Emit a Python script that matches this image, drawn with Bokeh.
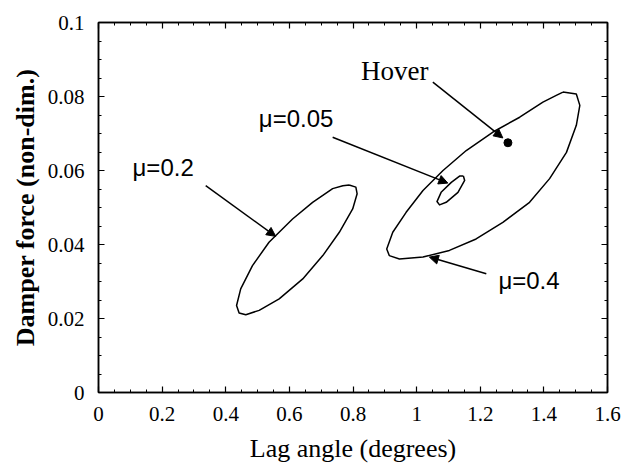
from bokeh.plotting import figure
from bokeh.models import (Range1d, FixedTicker, LinearAxis, Arrow, NormalHead, Label)
from bokeh.embed import file_html
from bokeh.resources import INLINE

# ---- data ----
x_ticks = [0, 0.2, 0.4, 0.6, 0.8, 1.0, 1.2, 1.4, 1.6]
x_tick_labels = ["0", "0.2", "0.4", "0.6", "0.8", "1", "1.2", "1.4", "1.6"]
y_ticks = [0, 0.02, 0.04, 0.06, 0.08, 0.1]
y_tick_labels = ["0", "0.02", "0.04", "0.06", "0.08", "0.1"]
x_minor = [i * 0.05 for i in range(33)]
y_minor = [i * 0.005 for i in range(21)]

# mu = 0.2 loop
mu02_x = [0.788, 0.809, 0.813, 0.799, 0.757, 0.705, 0.642, 0.568, 0.505, 0.463,
          0.442, 0.434, 0.447, 0.484, 0.536, 0.610, 0.673, 0.736, 0.768, 0.788]
mu02_y = [0.0561, 0.0555, 0.0537, 0.0496, 0.0433, 0.0370, 0.0307, 0.0253, 0.0222, 0.0210,
          0.0215, 0.0235, 0.0280, 0.0343, 0.0406, 0.0469, 0.0514, 0.0551, 0.0559, 0.0561]

# mu = 0.4 loop
mu04_x = [1.460, 1.502, 1.513, 1.502, 1.471, 1.418, 1.355, 1.271, 1.187, 1.103,
          1.020, 0.946, 0.914, 0.906, 0.925, 0.967, 1.020, 1.083, 1.156, 1.240,
          1.324, 1.397, 1.439, 1.460]
mu04_y = [0.0812, 0.0807, 0.0776, 0.0722, 0.0649, 0.0578, 0.0514, 0.0460, 0.0415, 0.0384,
          0.0366, 0.0361, 0.0370, 0.0388, 0.0433, 0.0487, 0.0546, 0.0600, 0.0654, 0.0704,
          0.0744, 0.0785, 0.0803, 0.0812]

# mu = 0.05 loop
mu005_x = [1.147, 1.151, 1.130, 1.093, 1.072, 1.064, 1.077, 1.109, 1.135, 1.147]
mu005_y = [0.0585, 0.0573, 0.0541, 0.0514, 0.0507, 0.0516, 0.0541, 0.0568, 0.0585, 0.0585]

hover_x = [1.287]
hover_y = [0.0675]

# annotations: label text, label position, arrow start, arrow end
ann_text = ["Hover", "\u03bc=0.05", "\u03bc=0.2", "\u03bc=0.4"]
ann_lx = [0.825, 0.504, 0.107, 1.257]
ann_ly = [0.0870, 0.0740, 0.0608, 0.0302]
arr_x0 = [1.051, 0.736, 0.337, 1.219]
arr_y0 = [0.0839, 0.0690, 0.0559, 0.0321]
arr_x1 = [1.271, 1.098, 0.557, 1.040]
arr_y1 = [0.0688, 0.0566, 0.0422, 0.0366]

# ---- figure ----
p = figure(width=624, height=465, output_backend="svg", toolbar_location=None,
           x_range=Range1d(0, 1.6), y_range=Range1d(0, 0.1),
           x_axis_label="Lag angle (degrees)", y_axis_label="Damper force (non-dim.)",
           min_border_left=98, min_border_right=17, min_border_top=22, min_border_bottom=73)
p.grid.visible = False
p.outline_line_color = "black"
p.outline_line_width = 1.5
p.background_fill_color = "white"
p.border_fill_color = "white"

serif = "Liberation Serif"
sans = "Liberation Sans"

xt = FixedTicker(ticks=x_ticks, minor_ticks=x_minor)
yt = FixedTicker(ticks=y_ticks, minor_ticks=y_minor)


def style_axis(ax, ticker, ticks, labels):
    ax.ticker = ticker
    ax.axis_line_color = "black"
    ax.axis_line_width = 1.5
    ax.major_tick_in = 6
    ax.major_tick_out = 0
    ax.minor_tick_in = 3
    ax.minor_tick_out = 0
    ax.major_tick_line_color = "black"
    ax.minor_tick_line_color = "black"
    ax.major_tick_line_width = 1.2
    ax.minor_tick_line_width = 1
    ax.major_label_overrides = {t: l for t, l in zip(ticks, labels)}
    ax.major_label_text_font = serif
    ax.major_label_text_font_size = "21px"
    ax.major_label_text_color = "black"
    ax.major_label_standoff = 14
    ax.axis_label_text_font = serif
    ax.axis_label_text_font_size = "26px"
    ax.axis_label_text_font_style = "normal"
    ax.axis_label_text_color = "black"


style_axis(p.xaxis[0], xt, x_ticks, x_tick_labels)
style_axis(p.yaxis[0], yt, y_ticks, y_tick_labels)
p.xaxis[0].axis_label_standoff = 10
p.yaxis[0].axis_label_standoff = 5
p.yaxis[0].axis_label_text_font_style = "bold"
p.yaxis[0].axis_label_text_font_size = "26px"

top_ax = LinearAxis()
right_ax = LinearAxis()
style_axis(top_ax, xt, x_ticks, [""] * len(x_ticks))
style_axis(right_ax, yt, y_ticks, [""] * len(y_ticks))
top_ax.major_label_standoff = 0
right_ax.major_label_standoff = 0
p.add_layout(top_ax, "above")
p.add_layout(right_ax, "right")

# loops
for xs, ys in [(mu02_x, mu02_y), (mu04_x, mu04_y), (mu005_x, mu005_y)]:
    p.line(xs, ys, line_color="black", line_width=1.5, line_join="round")

p.scatter(hover_x, hover_y, size=8, color="black")

# arrows and labels
for i, t in enumerate(ann_text):
    p.add_layout(Arrow(end=NormalHead(size=9, fill_color="black", line_color="black"),
                       x_start=arr_x0[i], y_start=arr_y0[i],
                       x_end=arr_x1[i], y_end=arr_y1[i],
                       line_color="black", line_width=1.5))
    font = serif if t == "Hover" else sans
    size = "27px" if t == "Hover" else "24px"
    p.add_layout(Label(x=ann_lx[i], y=ann_ly[i], text=t, text_font=font,
                       text_font_size=size, text_color="black",
                       text_baseline="alphabetic", text_align="left"))

open("out.html", "w").write(file_html(p, INLINE))
